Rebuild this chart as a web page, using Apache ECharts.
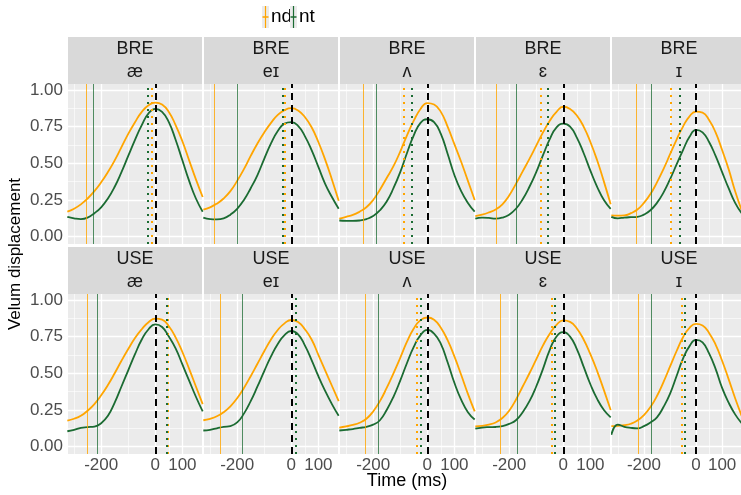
<!DOCTYPE html>
<html><head><meta charset="utf-8">
<script src="https://cdn.jsdelivr.net/npm/echarts@6/dist/echarts.min.js"></script>
<style>html,body{margin:0;padding:0;background:#fff}#c{width:741px;height:495px}</style>
</head><body><div id="c"></div>
<script>
// ---- data ----
const times = [-325,-300,-275,-250,-225,-200,-175,-150,-125,-100,-75,-50,-25,0,25,50,75,100,125,150,175];
const dialects = ['BRE','USE'];
const vowels = ['æ','eɪ','ʌ','ɛ','ɪ'];
const xTicks = [-200,0,100];
const xMinor = [-300,-100,50];
const yTicks = [0,0.25,0.5,0.75,1];
const yMinor = [0.125,0.375,0.625,0.875];

// BRE curves
const bre_ae_nd = [0.17,0.19,0.22,0.26,0.31,0.37,0.44,0.52,0.61,0.70,0.78,0.85,0.895,0.913,0.90,0.85,0.76,0.65,0.52,0.39,0.27];
const bre_ae_nt = [0.135,0.125,0.12,0.13,0.16,0.20,0.26,0.34,0.44,0.55,0.66,0.76,0.84,0.87,0.85,0.78,0.66,0.52,0.38,0.26,0.17];
const bre_ei_nd = [0.185,0.20,0.225,0.26,0.31,0.38,0.46,0.55,0.635,0.71,0.775,0.83,0.862,0.875,0.86,0.815,0.745,0.645,0.525,0.39,0.245];
const bre_ei_nt = [0.13,0.12,0.118,0.125,0.15,0.19,0.25,0.33,0.42,0.53,0.635,0.72,0.77,0.78,0.755,0.685,0.59,0.475,0.36,0.27,0.19];
const bre_uh_nd = [0.123,0.135,0.148,0.17,0.20,0.25,0.32,0.40,0.48,0.58,0.69,0.79,0.87,0.91,0.90,0.85,0.75,0.63,0.51,0.38,0.25];
const bre_uh_nt = [0.11,0.108,0.107,0.11,0.12,0.14,0.18,0.24,0.33,0.44,0.57,0.69,0.775,0.80,0.78,0.70,0.565,0.42,0.31,0.23,0.17];
const bre_eh_nd = [0.14,0.15,0.165,0.185,0.22,0.28,0.36,0.445,0.53,0.62,0.71,0.79,0.85,0.885,0.87,0.825,0.75,0.645,0.52,0.375,0.22];
const bre_eh_nt = [0.123,0.13,0.128,0.123,0.13,0.15,0.19,0.255,0.34,0.44,0.555,0.665,0.745,0.77,0.75,0.675,0.57,0.45,0.34,0.25,0.19];
const bre_ih_nd = [0.145,0.143,0.145,0.16,0.185,0.23,0.29,0.37,0.46,0.56,0.66,0.75,0.82,0.852,0.845,0.795,0.71,0.59,0.46,0.31,0.18];
const bre_ih_nt = [0.135,0.125,0.13,0.133,0.135,0.15,0.18,0.23,0.30,0.39,0.49,0.59,0.68,0.728,0.71,0.645,0.55,0.44,0.33,0.23,0.16];
// USE curves
const use_ae_nd = [0.178,0.19,0.21,0.245,0.29,0.35,0.42,0.50,0.585,0.665,0.74,0.80,0.848,0.872,0.865,0.82,0.745,0.645,0.53,0.41,0.29];
const use_ae_nt = [0.105,0.115,0.128,0.133,0.137,0.16,0.21,0.30,0.41,0.52,0.63,0.73,0.80,0.833,0.815,0.75,0.67,0.56,0.45,0.34,0.24];
const use_ei_nd = [0.18,0.19,0.207,0.235,0.275,0.33,0.40,0.48,0.565,0.65,0.73,0.795,0.84,0.863,0.85,0.80,0.73,0.625,0.52,0.415,0.31];
const use_ei_nt = [0.11,0.115,0.125,0.135,0.14,0.165,0.225,0.31,0.41,0.515,0.615,0.70,0.76,0.788,0.765,0.69,0.59,0.48,0.38,0.29,0.21];
const use_uh_nd = [0.13,0.138,0.148,0.163,0.19,0.24,0.31,0.40,0.50,0.605,0.715,0.805,0.862,0.88,0.865,0.81,0.725,0.615,0.49,0.36,0.24];
const use_uh_nt = [0.11,0.115,0.12,0.128,0.135,0.15,0.18,0.25,0.34,0.45,0.57,0.68,0.76,0.795,0.77,0.70,0.575,0.435,0.32,0.235,0.185];
const use_eh_nd = [0.138,0.142,0.15,0.165,0.195,0.245,0.32,0.41,0.50,0.595,0.69,0.77,0.83,0.86,0.85,0.805,0.73,0.63,0.515,0.385,0.25];
const use_eh_nt = [0.123,0.13,0.133,0.134,0.14,0.155,0.18,0.235,0.31,0.41,0.53,0.66,0.75,0.78,0.75,0.665,0.545,0.425,0.325,0.25,0.20];
const use_ih_nd = [0.14,0.142,0.146,0.156,0.178,0.215,0.27,0.345,0.44,0.545,0.65,0.745,0.81,0.836,0.825,0.775,0.695,0.585,0.46,0.33,0.21];
const use_ih_nt = [0.08,0.15,0.135,0.128,0.125,0.14,0.165,0.20,0.27,0.36,0.48,0.60,0.685,0.727,0.71,0.635,0.53,0.40,0.30,0.22,0.16];

// vertical reference lines (ms)
const ndOnsetBRE = [-255,-286,-235,-246,-230];
const ntOnsetBRE = [-229,-200,-188,-172,-171];
const ndPeakBRE  = [-13.5,-26,-86,-85,-98];
const ntPeakBRE  = [-27,-30,-57,-58,-64];
const ndOnsetUSE = [-252,-261,-229,-233,-223];
const ntOnsetUSE = [-213,-181,-181,-169,-171];
const ndPeakUSE  = [45,17,-38,-42,-54];
const ntPeakUSE  = [43,15,-23,-30,-44];
const refLine = 0;

// ---- build ----
const ndCurves = [[bre_ae_nd,bre_ei_nd,bre_uh_nd,bre_eh_nd,bre_ih_nd],[use_ae_nd,use_ei_nd,use_uh_nd,use_eh_nd,use_ih_nd]];
const ntCurves = [[bre_ae_nt,bre_ei_nt,bre_uh_nt,bre_eh_nt,bre_ih_nt],[use_ae_nt,use_ei_nt,use_uh_nt,use_eh_nt,use_ih_nt]];
const ndOnset = [ndOnsetBRE, ndOnsetUSE], ntOnset = [ntOnsetBRE, ntOnsetUSE];
const ndPeak = [ndPeakBRE, ndPeakUSE], ntPeak = [ntPeakBRE, ntPeakUSE];

const FONT = '"Liberation Sans", Arial, Helvetica, sans-serif';
const ORANGE = '#FFA500', GREEN = '#1B6B32';
const X_MIN = -322.5, X_MAX = 172.5, Y_MIN = -0.05, Y_MAX = 1.04;
const PANEL_W = 134, STEP = 136, LEFT0 = 68, PANEL_H = 160, STRIP_H = 47;
const rowTop = [84, 294], stripTop = [37, 247];

const grids = [], xAxes = [], yAxes = [], series = [], graphics = [];
for (let r = 0; r < 2; r++) {
  for (let c = 0; c < 5; c++) {
    const k = r * 5 + c;
    const left = LEFT0 + STEP * c;
    grids.push({left: left, top: rowTop[r], width: PANEL_W, height: PANEL_H, show: true,
      backgroundColor: '#EBEBEB', borderWidth: 0});
    xAxes.push({type: 'value', gridIndex: k, min: X_MIN, max: X_MAX,
      axisLine: {show: false}, splitLine: {show: false},
      axisTick: {show: r === 1, customValues: xTicks, length: 3, lineStyle: {color: '#333', width: 1}},
      axisLabel: {show: r === 1, customValues: xTicks, color: '#4D4D4D', fontSize: 17, margin: 3, fontFamily: FONT}});
    yAxes.push({type: 'value', gridIndex: k, min: Y_MIN, max: Y_MAX,
      axisLine: {show: false}, splitLine: {show: false},
      axisTick: {show: c === 0, customValues: yTicks, length: 3, lineStyle: {color: '#333', width: 1}},
      axisLabel: {show: c === 0, customValues: yTicks, color: '#4D4D4D', fontSize: 17, margin: 5, fontFamily: FONT,
        formatter: v => v.toFixed(2)}});
    const gl = [];
    xTicks.forEach(v => gl.push({coords: [[v, Y_MIN], [v, Y_MAX]], lineStyle: {width: 1.3}}));
    xMinor.forEach(v => gl.push({coords: [[v, Y_MIN], [v, Y_MAX]], lineStyle: {width: 0.6}}));
    yTicks.forEach(v => gl.push({coords: [[X_MIN, v], [X_MAX, v]], lineStyle: {width: 1.3}}));
    yMinor.forEach(v => gl.push({coords: [[X_MIN, v], [X_MAX, v]], lineStyle: {width: 0.6}}));
    series.push({type: 'lines', coordinateSystem: 'cartesian2d', xAxisIndex: k, yAxisIndex: k, z: 1, silent: true,
      lineStyle: {color: '#FFFFFF', opacity: 1}, data: gl, animation: false});
    series.push({type: 'line', name: 'nd', xAxisIndex: k, yAxisIndex: k, z: 3, showSymbol: false, symbol: 'none',
      smooth: 0.5, clip: true, animation: false,
      lineStyle: {color: ORANGE, width: 1.8}, itemStyle: {color: ORANGE},
      data: times.map((t, i) => [t, ndCurves[r][c][i]])});
    series.push({type: 'line', name: 'nt', xAxisIndex: k, yAxisIndex: k, z: 3, showSymbol: false, symbol: 'none',
      smooth: 0.5, clip: true, animation: false,
      lineStyle: {color: GREEN, width: 1.8}, itemStyle: {color: GREEN},
      data: times.map((t, i) => [t, ntCurves[r][c][i]])});
    const vl = [
      {coords: [[ndOnset[r][c], Y_MIN], [ndOnset[r][c], Y_MAX]], lineStyle: {color: ORANGE, width: 1, opacity: 0.8, type: 'solid'}},
      {coords: [[ntOnset[r][c], Y_MIN], [ntOnset[r][c], Y_MAX]], lineStyle: {color: GREEN, width: 1, opacity: 0.75, type: 'solid'}},
      {coords: [[ndPeak[r][c], Y_MIN], [ndPeak[r][c], Y_MAX]], lineStyle: {color: ORANGE, width: 2, opacity: 1, type: [2, 5]}},
      {coords: [[ntPeak[r][c], Y_MIN], [ntPeak[r][c], Y_MAX]], lineStyle: {color: GREEN, width: 2, opacity: 1, type: [2, 5]}},
      {coords: [[refLine, Y_MIN], [refLine, Y_MAX]], lineStyle: {color: '#000', width: 2, opacity: 1, type: [7, 5]}}
    ];
    series.push({type: 'lines', coordinateSystem: 'cartesian2d', xAxisIndex: k, yAxisIndex: k, z: 4, silent: true,
      data: vl, animation: false});
    graphics.push({type: 'rect', shape: {x: left, y: stripTop[r], width: PANEL_W, height: STRIP_H}, style: {fill: '#D9D9D9'}, z: 1});
    graphics.push({type: 'text', x: left + PANEL_W / 2, y: stripTop[r] + 12, z: 2,
      style: {text: dialects[r], fill: '#1A1A1A', font: '18px ' + FONT, align: 'center', verticalAlign: 'middle'}});
    graphics.push({type: 'text', x: left + PANEL_W / 2, y: stripTop[r] + 35, z: 2,
      style: {text: vowels[c], fill: '#1A1A1A', font: '18px ' + FONT, align: 'center', verticalAlign: 'middle'}});
  }
}
// legend
const legendItems = [{name: 'nd', color: ORANGE, x: 262}, {name: 'nt', color: GREEN, x: 290}];
legendItems.forEach(it => {
  graphics.push({type: 'rect', shape: {x: it.x, y: 6, width: 7, height: 22}, style: {fill: '#EBEBEB'}});
  graphics.push({type: 'line', shape: {x1: it.x + 3.5, y1: 6, x2: it.x + 3.5, y2: 28}, style: {stroke: it.color, lineWidth: 1.2}});
  graphics.push({type: 'line', shape: {x1: it.x + 0.5, y1: 17, x2: it.x + 6.5, y2: 17}, style: {stroke: it.color, lineWidth: 1.5}});
  graphics.push({type: 'text', x: it.x + 9, y: 17, style: {text: it.name, fill: '#000', font: '19px ' + FONT, align: 'left', verticalAlign: 'middle'}});
});
// axis titles
graphics.push({type: 'text', x: 407, y: 481, style: {text: 'Time (ms)', fill: '#000', font: '18px ' + FONT, align: 'center', verticalAlign: 'middle'}});
graphics.push({type: 'text', x: 15, y: 254, rotation: Math.PI / 2, style: {text: 'Velum displacement', fill: '#000', font: '17px ' + FONT, align: 'center', verticalAlign: 'middle'}});

const chart = echarts.init(document.getElementById('c'), null, {renderer: 'canvas', width: 741, height: 495});
chart.setOption({animation: false, grid: grids, xAxis: xAxes, yAxis: yAxes, series: series, graphic: graphics});
</script></body></html>
